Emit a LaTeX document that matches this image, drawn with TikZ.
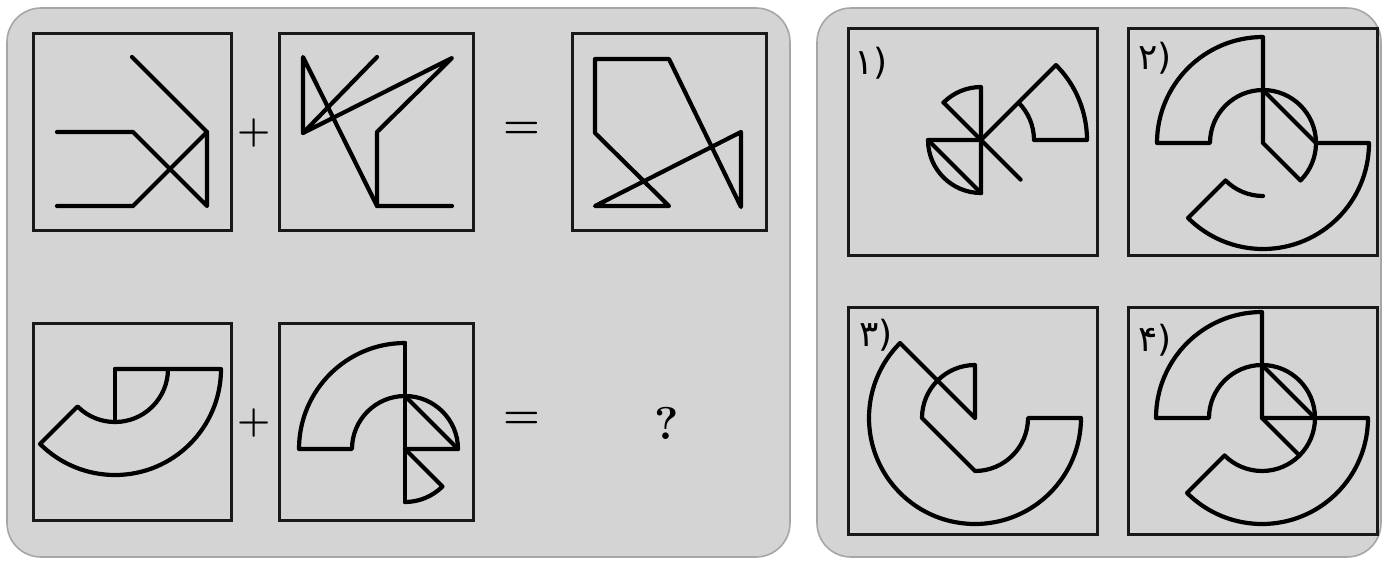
\documentclass[tikz,border=0pt]{standalone}
\usepackage{fontspec}
\newfontfamily\farsi[Script=Arabic]{DejaVu Sans}
\newfontfamily\dejavu{DejaVu Sans}
\definecolor{panelgray}{HTML}{D4D4D4}

\begin{document}
\begin{tikzpicture}[x=0.5pt,y=-0.5pt,
  panel/.style={draw=gray!70,fill=panelgray,line width=0.8pt,rounded corners=17pt},
  frame/.style={draw=black!90,line width=1.5pt},
  fig/.style={draw=black,line width=2.1pt,line join=round,line cap=round},
  sym/.style={inner sep=0pt,font=\fontsize{19}{20}\selectfont\bfseries},
  lbl/.style={inner sep=0pt,font=\dejavu\fontsize{18}{19}\selectfont}]
\def\rin{53}
\def\rout{106}
\useasboundingbox (0,0) rectangle (1383,563);
% panels and frames
\draw[panel] (7,8) rectangle (790,557);
\draw[panel] (817,8) rectangle (1381,557);
\foreach \x/\y/\w in {33/33/198,279/33/194,572/33/194,33/323/198,279/323/194}
  \draw[frame] (\x,\y) rectangle ++(\w,197);
\foreach \x/\y in {848/28,1128/28,848/307,1128/307}
  \draw[frame] (\x,\y) rectangle ++(249,227);
% first row
\draw[fig] (132,57) -- (207,132) -- (207,206) -- (133,132) -- (57,132);
\draw[fig] (207,132) -- (133,206) -- (57,206);
\draw[fig] (377,57) -- (303,133) -- (452,58) -- (377,132) -- (377,206) -- (452,206);
\draw[fig] (303,133) -- (303,57) -- (377,206);
\draw[fig] (595,133) -- (595,59) -- (669,59) -- (741,207) -- (741,132) -- (595,206) -- (669,206) -- cycle;
\node[sym] (plus1) at (254,133) {+};
\node[sym,font=\fontsize{21}{22}\selectfont\bfseries] (eq1) at (522,130) {=};
% second row
\coordinate (c4) at (115,369);
\coordinate (c5) at (405,449);
\draw[fig] (c4) -- ++(0:\rout) arc[start angle=0,end angle=135,radius=\rout]
  -- ++(135:{\rin-\rout}) arc[start angle=135,end angle=0,radius=\rin];
\draw[fig] (c4) -- ++(90:\rin);
\draw[fig] (c5) ++(270:\rout) arc[start angle=270,end angle=180,radius=\rout]
  -- ++(180:{\rin-\rout}) arc[start angle=180,end angle=360,radius=\rin] -- (c5);
\draw[fig] (c5) ++(270:\rout) -- ++(90:{\rout+\rin});
\draw[fig] (c5) ++(270:\rin) -- ++(\rin,\rin);
\draw[fig] (c5) -- ++(45:\rin) arc[start angle=45,end angle=90,radius=\rin];
\node[sym] (plus2) at (254,423) {+};
\node[sym,font=\fontsize{21}{22}\selectfont\bfseries] (eq2) at (522,420) {=};
\node[sym,font=\fontsize{23}{24}\selectfont\bfseries] (qmark) at (667,423) {?};
% answers
\coordinate (a1) at (981,140);
\coordinate (a2) at (1263,143);
\coordinate (a3) at (975,418);
\coordinate (a4) at (1262,418);
\node[lbl] (lab1) at (871,63) {{\farsi ۱})};
\node[lbl] (lab2) at (1155,58) {{\farsi ۲})};
\node[lbl] (lab3) at (876,335) {{\farsi ۳})};
\node[lbl] (lab4) at (1155,340) {{\farsi ۴})};
% 1
\draw[fig] (a1) -- ++(-45:\rout) arc[start angle=-45,end angle=0,radius=\rout]
  -- ++(0:{\rin-\rout}) arc[start angle=0,end angle=-45,radius=\rin];
\draw[fig] (a1) ++(-135:\rin) -- ++(45:{2*\rin+3});
\draw[fig] (a1) ++(-135:\rin) arc[start angle=-135,end angle=-90,radius=\rin] -- ++(90:{2*\rin});
\draw[fig] (a1) -- ++(180:\rin) arc[start angle=180,end angle=90,radius=\rin];
\draw[fig] (a1) ++(180:\rin) -- ++(\rin,\rin);
% 2
\draw[fig] (a2) -- ++(270:\rout) arc[start angle=270,end angle=180,radius=\rout]
  -- ++(180:{\rin-\rout}) arc[start angle=180,end angle=405,radius=\rin] -- (a2);
\draw[fig] (a2) ++(270:\rin) -- ++(\rin,\rin);
\draw[fig] (a2) ++(0:\rin) -- ++(0:{\rout-\rin}) arc[start angle=0,end angle=135,radius=\rout]
  -- ++(135:{\rin-\rout}) arc[start angle=135,end angle=90,radius=\rin];
% 3
\draw[fig] (a3) -- ++(225:\rout) arc[start angle=225,end angle=0,radius=\rout]
  -- ++(0:{\rin-\rout}) arc[start angle=0,end angle=90,radius=\rin]
  -- ++(-\rin,-\rin) arc[start angle=180,end angle=270,radius=\rin] -- (a3);
% 4
\draw[fig] (a4) -- ++(270:\rout) arc[start angle=270,end angle=180,radius=\rout]
  -- ++(180:{\rin-\rout}) arc[start angle=180,end angle=495,radius=\rin]
  -- ++(135:{\rout-\rin}) arc[start angle=135,end angle=0,radius=\rout] -- (a4);
\draw[fig] (a4) -- ++(45:\rin);
\draw[fig] (a4) ++(270:\rin) -- ++(\rin,\rin);
\end{tikzpicture}
\end{document}
